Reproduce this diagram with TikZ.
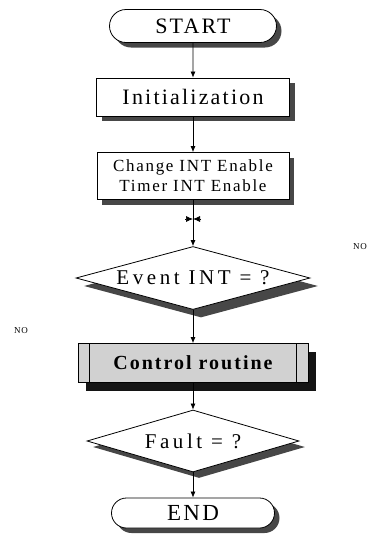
\documentclass[tikz,border=0pt]{standalone}
\usepackage{fontspec}
\setmainfont[LetterSpace=10]{Liberation Serif}
\newfontfamily\widefont[LetterSpace=17]{Liberation Serif}
\usetikzlibrary{shapes.geometric,shapes.misc,shadows,arrows.meta}
\begin{document}
\begin{tikzpicture}[x=1pt,y=-1pt,
  shad/.style={drop shadow={shadow xshift=#1, shadow yshift=-#1, fill=black!72, opacity=1}},
  darkshad/.style={drop shadow={shadow xshift=#1, shadow yshift=-#1, fill=black!92, opacity=1}},
  term/.style={rounded rectangle, draw, fill=white, line width=0.8pt, inner sep=0pt},
  proc/.style={rectangle, draw, fill=white, line width=0.8pt, inner sep=0pt},
  dec/.style={diamond, draw, fill=white, line width=0.8pt, inner sep=0pt},
  predef/.style={rectangle, draw, fill=black!18, line width=0.8pt, inner sep=0pt},
  flow/.style={-{Latex[length=6pt,width=5pt]}, line width=0.7pt},
  nolab/.style={font=\fontsize{9}{10}\selectfont, inner sep=0pt}]
\useasboundingbox (0,0) rectangle (372,542);

\node[term, shad=5pt, minimum width=167pt, minimum height=33pt, font=\fontsize{22}{24}\selectfont] (start) at (193,26) {START};
\node[proc, shad=5pt, minimum width=193pt, minimum height=38pt, font=\fontsize{22}{24}\selectfont] (init) at (193,97) {Initialization};
\node[proc, shad=5pt, minimum width=192pt, minimum height=47pt, align=center, font=\fontsize{17}{20}\selectfont] (chg) at (193,176) {Change INT Enable\\Timer INT Enable};
\coordinate (m) at (193,219);
\coordinate (ml) at (185,219);
\coordinate (mr) at (201,219);
\node[dec, shad=8pt, shape aspect=3.7, minimum width=234pt, minimum height=63pt, font=\widefont\fontsize{21}{23}\selectfont] (ev) at (193,278) {Event INT = ?};
\node[predef, darkshad=8pt, minimum width=230pt, minimum height=39pt, font=\bfseries\fontsize{20}{22}\selectfont] (ctrl) at (193,363) {Control routine};
\draw[line width=0.8pt] ([xshift=12pt]ctrl.north west) -- ([xshift=12pt]ctrl.south west);
\draw[line width=0.8pt] ([xshift=-12pt]ctrl.north east) -- ([xshift=-12pt]ctrl.south east);
\node[dec, shad=6pt, shape aspect=3.4, minimum width=212pt, minimum height=62pt, font=\widefont\fontsize{21}{23}\selectfont] (fault) at (193,441) {Fault = ?};
\node[term, shad=5pt, minimum width=163pt, minimum height=30pt, font=\fontsize{23}{25}\selectfont] (end) at (193,513) {END};

\node[nolab] (no1) at (360,247) {NO};
\node[nolab] (no2) at (21,331) {NO};

\draw[flow] (start) -- (init);
\draw[flow] (init) -- (chg);
\draw[flow] (chg) -- (ev);
\draw[-{Latex[length=7pt,width=6pt]}, line width=0.7pt] (ml) -- (m);
\draw[-{Latex[length=7pt,width=6pt]}, line width=0.7pt] (mr) -- (m);
\draw[flow] (ev) -- (ctrl);
\draw[flow] (ctrl) -- (fault);
\draw[flow] (fault) -- (end);
\end{tikzpicture}
\end{document}
